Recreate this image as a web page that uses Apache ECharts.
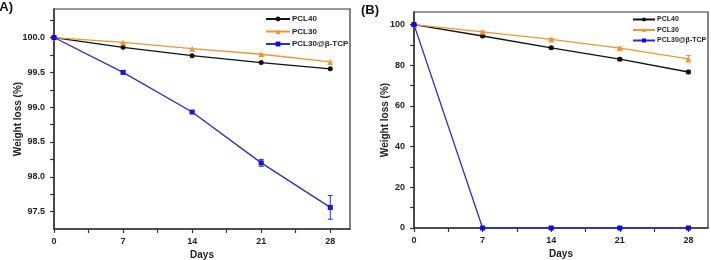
<!DOCTYPE html>
<html>
<head>
<meta charset="utf-8">
<script src="https://cdn.jsdelivr.net/npm/echarts@6/dist/echarts.min.js"></script>
<style>
html, body { margin: 0; padding: 0; background: #fff; }
#chart { width: 711px; height: 260px; }
</style>
</head>
<body>
<div id="chart"></div>
<script>
// days of sampling
var days = [0, 7, 14, 21, 28];

// panel A
var aPCL40 = [100, 99.86, 99.74, 99.64, 99.55];
var aPCL30 = [100, 99.93, 99.84, 99.76, 99.65];
var aTCP = [100, 99.5, 98.93, 98.2, 97.56];
var aTCPErr = [0, 0.02, 0.02, 0.05, 0.17];

// panel B
var bPCL40 = [100, 94.4, 88.6, 83.0, 76.7];
var bPCL30 = [100, 96.4, 92.7, 88.4, 83.2];
var bTCP = [100, 0, 0, 0, 0];
var bPCL40Err = [0, 0.4, 0.5, 0.5, 0.8];
var bPCL30Err = [0, 0.4, 0.5, 0.6, 1.6];

// ticks
var xTicks = [0, 3.5, 7, 10.5, 14, 17.5, 21, 24.5, 28];
var xLabels = [0, 7, 14, 21, 28];
var aYTicks = [97.5, 97.75, 98, 98.25, 98.5, 98.75, 99, 99.25, 99.5, 99.75, 100, 100.25];
var aYLabels = [97.5, 98, 98.5, 99, 99.5, 100];
var bYTicks = [0, 10, 20, 30, 40, 50, 60, 70, 80, 90, 100];
var bYLabels = [0, 20, 40, 60, 80, 100];

var colors = {
	black: '#111111',
	orange: '#f29533',
	blue: '#2a2ad6',
	blueMark: '#0a0ae8',
	axis: '#333333',
	text: '#222222'
};
var font = 'Liberation Sans, Arial, sans-serif';

function pairs(vals) {
	var out = [];
	for (var i = 0; i < days.length; i++) out.push([days[i], vals[i]]);
	return out;
}
function triples(vals, errs) {
	var out = [];
	for (var i = 0; i < days.length; i++) out.push([days[i], vals[i], errs[i]]);
	return out;
}

function xAxisFor(gi) {
	return {
		type: 'value', gridIndex: gi, min: 0, max: 30,
		name: 'Days', nameLocation: 'middle', nameGap: 21.5, nameMoveOverlap: false,
		nameTextStyle: { fontFamily: font, fontWeight: 'bold', fontSize: 10, color: colors.text },
		axisLine: { lineStyle: { color: colors.axis, width: 1.5 } },
		axisTick: { show: true, length: 4, customValues: xTicks, lineStyle: { color: colors.axis, width: 1.2 } },
		axisLabel: { customValues: xLabels, margin: 8, fontFamily: font, fontWeight: 'bold', fontSize: 9, color: colors.text },
		splitLine: { show: false }
	};
}
function yAxisFor(gi, min, max, ticks, labels, digits, gap) {
	return {
		type: 'value', gridIndex: gi, min: min, max: max,
		name: 'Weight loss (%)', nameLocation: 'middle', nameGap: gap, nameRotate: 90, nameMoveOverlap: false,
		nameTextStyle: { fontFamily: font, fontWeight: 'bold', fontSize: 10, color: colors.text },
		axisLine: { show: true, lineStyle: { color: colors.axis, width: 1.5 } },
		axisTick: { show: true, length: 4, customValues: ticks, lineStyle: { color: colors.axis, width: 1.2 } },
		axisLabel: {
			customValues: labels, margin: 9, fontFamily: font, fontWeight: 'bold', fontSize: 9, color: colors.text,
			formatter: function(v) { return v.toFixed(digits); }
		},
		splitLine: { show: false }
	};
}

function lineSeries(name, data, gi, color, symbol, size, markColor) {
	return {
		name: name, type: 'line', xAxisIndex: gi, yAxisIndex: gi,
		data: pairs(data), symbol: symbol, symbolSize: size,
		lineStyle: { color: color, width: 1.3 },
		itemStyle: { color: markColor || color },
		z: 3
	};
}

function errSeries(data, errs, gi, color) {
	return {
		type: 'custom', xAxisIndex: gi, yAxisIndex: gi,
		data: triples(data, errs),
		encode: { x: 0, y: 1 },
		z: 4,
		renderItem: function(params, api) {
			var x = api.value(0), y = api.value(1), e = api.value(2);
			if (!e) return;
			var hi = api.coord([x, y + e]);
			var lo = api.coord([x, y - e]);
			var st = { stroke: color, lineWidth: 1 };
			return {
				type: 'group',
				children: [
					{ type: 'line', shape: { x1: hi[0], y1: hi[1], x2: lo[0], y2: lo[1] }, style: st },
					{ type: 'line', shape: { x1: hi[0] - 2.5, y1: hi[1], x2: hi[0] + 2.5, y2: hi[1] }, style: st },
					{ type: 'line', shape: { x1: lo[0] - 2.5, y1: lo[1], x2: lo[0] + 2.5, y2: lo[1] }, style: st }
				]
			};
		}
	};
}

var chart = echarts.init(document.getElementById('chart'));
chart.setOption({
	animation: false,
	backgroundColor: '#fff',
	grid: [
		{ left: 54, right: 361, top: 9, bottom: 31, outerBoundsMode: 'none', containLabel: false, show: true, borderColor: colors.axis, borderWidth: 1.2 },
		{ left: 414, right: 3, top: 12, bottom: 32, outerBoundsMode: 'none', containLabel: false, show: true, borderColor: colors.axis, borderWidth: 1.2 }
	],
	legend: [
		{
			orient: 'vertical', left: 265, top: 15, padding: 0, itemWidth: 24, itemHeight: 6, itemGap: 4.5,
			data: ['PCL40', 'PCL30', 'PCL30@β-TCP'],
			textStyle: { fontFamily: font, fontWeight: 'bold', fontSize: 8, color: colors.text, padding: [0, 0, 0, -3] }
		},
		{
			orient: 'vertical', left: 632, top: 16, padding: 0, itemWidth: 22, itemHeight: 5, itemGap: 3.5,
			data: ['PCL40', 'PCL30', 'PCL30@β-TCP'],
			textStyle: { fontFamily: font, fontWeight: 'bold', fontSize: 7, color: colors.text, padding: [0, 0, 0, -3] }
		}
	],
	xAxis: [xAxisFor(0), xAxisFor(1)],
	yAxis: [
		yAxisFor(0, 97.25, 100.41, aYTicks, aYLabels, 1, 31),
		yAxisFor(1, 0, 106.2, bYTicks, bYLabels, 0, 24)
	],
	graphic: [
		{ type: 'text', left: -5, top: 1, style: { text: '(A)', fontFamily: font, fontWeight: 'bold', fontSize: 13, fill: '#111' } },
		{ type: 'text', left: 361, top: 4, style: { text: '(B)', fontFamily: font, fontWeight: 'bold', fontSize: 13, fill: '#111' } }
	],
	series: [
		lineSeries('PCL40', aPCL40, 0, colors.black, 'circle', 5),
		lineSeries('PCL30', aPCL30, 0, colors.orange, 'triangle', 6),
		lineSeries('PCL30@β-TCP', aTCP, 0, colors.blue, 'rect', 5, colors.blueMark),
		errSeries(aTCP, aTCPErr, 0, colors.blue),
		lineSeries('PCL40', bPCL40, 1, colors.black, 'circle', 5),
		lineSeries('PCL30', bPCL30, 1, colors.orange, 'triangle', 6),
		lineSeries('PCL30@β-TCP', bTCP, 1, colors.blue, 'rect', 5, colors.blueMark),
		errSeries(bPCL40, bPCL40Err, 1, colors.black),
		errSeries(bPCL30, bPCL30Err, 1, colors.orange)
	]
});
</script>
</body>
</html>
